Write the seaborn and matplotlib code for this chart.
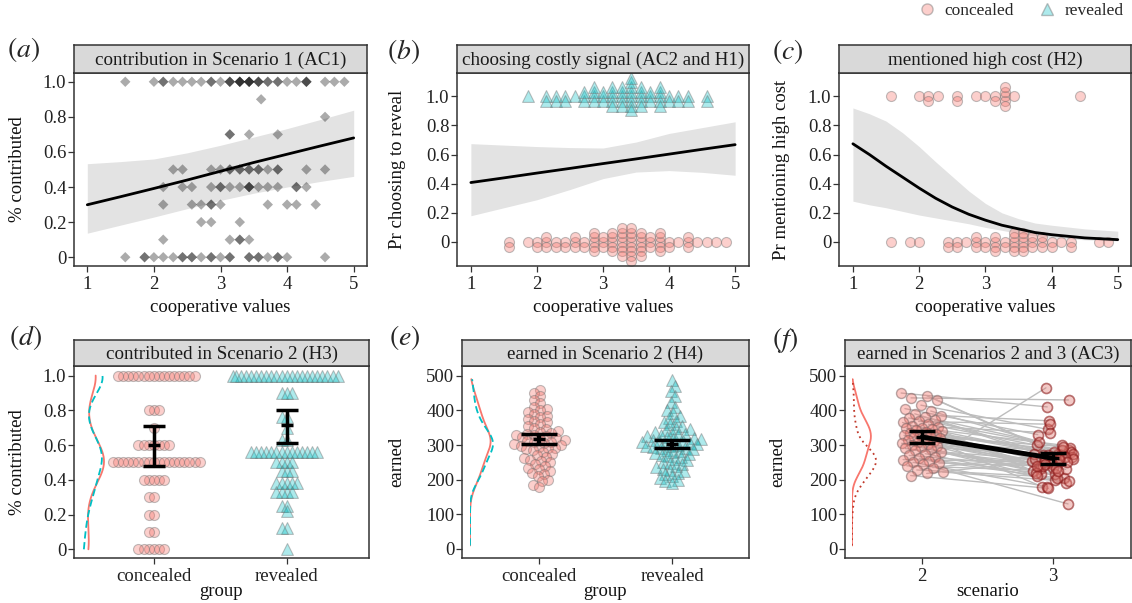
import numpy as np
import pandas as pd
import matplotlib
matplotlib.use("Agg")
import matplotlib.pyplot as plt
from matplotlib.lines import Line2D
from matplotlib.colors import to_rgba
import seaborn as sns

# ---------------- data ----------------
# (a) cooperative values of participants, listed per contribution level (Scenario 1)
a_x_100 = [1.57, 2.00, 2.14, 2.14, 2.29, 2.43, 2.57, 2.71, 2.86, 2.86, 3.00, 3.14, 3.14, 3.14,
           3.29, 3.29, 3.29, 3.29, 3.43, 3.43, 3.43, 3.43, 3.57, 3.57, 3.57, 3.71, 3.71, 3.86,
           3.86, 4.00, 4.14, 4.29, 4.29, 4.29, 4.57, 4.71, 4.86]
a_x_090 = [3.61]
a_x_080 = [4.57]
a_x_070 = [3.14, 3.14, 3.43, 3.86]
a_x_050 = [2.29, 2.43, 2.86, 3.00, 3.14, 3.14, 3.29, 3.29, 3.43, 3.43, 3.57, 3.57, 3.71, 3.86,
           3.86, 4.29, 4.57]
a_x_040 = [2.14, 2.43, 2.57, 2.86, 3.00, 3.00, 3.14, 3.29, 3.43, 3.43, 3.43, 3.57, 3.71, 3.86,
           4.14, 4.14, 4.29]
a_x_030 = [2.14, 2.57, 2.71, 2.86, 2.86, 3.00, 3.71, 4.00, 4.14, 4.43]
a_x_020 = [2.71, 2.86, 3.29]
a_x_010 = [2.14, 3.14, 3.29, 3.29, 3.43]
a_x_000 = [1.57, 1.86, 1.86, 2.00, 2.14, 2.29, 2.43, 2.43, 2.57, 2.57, 2.71, 2.86, 2.86, 3.00,
           3.14, 3.14, 3.43, 3.43, 3.57, 3.57, 3.71, 3.86, 3.86, 4.00, 4.57]
a_levels = [1.0, 0.9, 0.8, 0.7, 0.5, 0.4, 0.3, 0.2, 0.1, 0.0]
a_fit_x = [1.0, 1.5, 2.0, 2.5, 3.0, 3.5, 4.0, 4.5, 5.0]
a_fit = [0.299, 0.345, 0.392, 0.44, 0.49, 0.54, 0.587, 0.634, 0.68]
a_lo = [0.137, 0.183, 0.229, 0.277, 0.324, 0.365, 0.40, 0.432, 0.461]
a_hi = [0.533, 0.545, 0.56, 0.595, 0.638, 0.685, 0.733, 0.785, 0.838]

# (b) choosing costly signal: cooperative values of revealers (1) and concealers (0)
b_revealed = [1.86, 2.14, 2.14, 2.29, 2.29, 2.43, 2.43, 2.57, 2.71, 2.71, 2.71, 2.86, 2.86, 2.86,
              2.86, 3.00, 3.00, 3.00, 3.14, 3.14, 3.14, 3.14, 3.14, 3.29, 3.29, 3.29, 3.29, 3.29,
              3.43, 3.43, 3.43, 3.43, 3.43, 3.43, 3.43, 3.43, 3.57, 3.57, 3.57, 3.57, 3.57,
              3.71, 3.71, 3.71, 3.86, 3.86, 3.86, 3.86, 3.86, 4.00, 4.00, 4.14, 4.14, 4.29, 4.29,
              4.57, 4.57]
b_concealed = [1.57, 1.57, 1.86, 2.00, 2.00, 2.14, 2.14, 2.14, 2.29, 2.29, 2.43, 2.43, 2.57, 2.57,
               2.57, 2.71, 2.71, 2.86, 2.86, 2.86, 2.86, 2.86, 3.00, 3.00, 3.00, 3.14, 3.14, 3.14,
               3.14, 3.14, 3.29, 3.29, 3.29, 3.29, 3.29, 3.29, 3.29, 3.43, 3.43, 3.43, 3.43, 3.43,
               3.43, 3.43, 3.43, 3.57, 3.57, 3.57, 3.57, 3.57, 3.57, 3.71, 3.71, 3.71, 3.86, 3.86,
               3.86, 3.86, 3.86, 4.00, 4.00, 4.14, 4.29, 4.29, 4.29, 4.43, 4.57, 4.71, 4.86]
b_fit_x = [1.0, 1.5, 2.0, 2.5, 3.0, 3.5, 4.0, 4.5, 5.0]
b_fit = [0.408, 0.44, 0.473, 0.505, 0.538, 0.57, 0.603, 0.636, 0.668]
b_lo = [0.18, 0.235, 0.29, 0.36, 0.435, 0.48, 0.49, 0.478, 0.458]
b_hi = [0.675, 0.665, 0.655, 0.648, 0.645, 0.686, 0.745, 0.785, 0.825]

# (c) mentioned high cost (concealers only)
c_yes = [1.57, 2.00, 2.14, 2.14, 2.29, 2.57, 2.57, 2.86, 3.00, 3.14, 3.14, 3.29, 3.29, 3.29,
         3.29, 3.29, 3.43, 4.43]
c_no = [1.57, 1.86, 2.00, 2.43, 2.43, 2.57, 2.57, 2.71, 2.86, 2.86, 2.86, 3.00, 3.00, 3.14, 3.14,
        3.14, 3.14, 3.29, 3.29, 3.43, 3.43, 3.43, 3.43, 3.43, 3.57, 3.57, 3.57, 3.57, 3.57, 3.71,
        3.71, 3.71, 3.86, 3.86, 3.86, 4.00, 4.00, 4.14, 4.29, 4.29, 4.71, 4.86]
c_fit_x = [1.0, 1.25, 1.5, 1.75, 2.0, 2.25, 2.5, 2.75, 3.0, 3.25, 3.5, 3.75, 4.0, 4.5, 5.0]
c_fit = [0.674, 0.60, 0.52, 0.445, 0.37, 0.30, 0.24, 0.19, 0.15, 0.115, 0.09, 0.065, 0.05, 0.028, 0.016]
c_lo = [0.28, 0.255, 0.235, 0.21, 0.185, 0.165, 0.145, 0.125, 0.10, 0.08, 0.058, 0.042, 0.03, 0.015, 0.007]
c_hi = [0.92, 0.88, 0.83, 0.75, 0.655, 0.55, 0.45, 0.35, 0.265, 0.20, 0.16, 0.13, 0.115, 0.09, 0.074]

# (d) contributed in Scenario 2
d_concealed = [1.0] * 16 + [0.8] * 3 + [0.7] + [0.6] * 7 + [0.5] * 18 + [0.4] * 5 + [0.3] * 2 + \
              [0.2] * 2 + [0.1] * 2 + [0.0] * 6
d_revealed = [1.0] * 22 + [0.9] * 3 + [0.76] * 2 + [0.7] + [0.63] * 2 + [0.56] * 14 + [0.5] * 4 + \
             [0.45] * 3 + [0.38] * 5 + [0.33] * 4 + [0.25] * 2 + [0.22] + [0.12] * 2 + [0.0]
d_mean = [0.60, 0.715]
d_lo = [0.48, 0.613]
d_hi = [0.71, 0.80]

# (e) earned in Scenario 2
e_concealed = [460, 450, 440, 430, 420, 410, 405, 400, 395, 390, 385, 380, 375, 370, 365, 360, 355,
               350, 345, 340, 338, 335, 332, 330, 328, 325, 322, 320, 318, 315, 312, 310, 308, 305,
               302, 300, 298, 295, 292, 290, 288, 285, 280, 275, 270, 265, 262, 258, 255, 250, 245,
               240, 235, 230, 225, 220, 215, 210, 200, 195, 185, 178]
e_revealed = [488, 470, 455, 440, 425, 410, 400, 392, 385, 378, 370, 365, 360, 355, 350, 345, 342,
              338, 335, 332, 330, 328, 325, 322, 320, 318, 316, 314, 312, 310, 308, 306, 304, 302,
              300, 298, 296, 294, 292, 290, 288, 285, 282, 280, 277, 274, 270, 267, 264, 260, 256,
              252, 248, 244, 240, 236, 232, 228, 224, 220, 215, 210, 205, 200, 195, 190]
e_mean = [318, 303]
e_lo = [304, 291]
e_hi = [332, 315]

# (f) earned in Scenarios 2 and 3 (same participant in both lists, same position)
f_s2 = [450, 442, 436, 430, 415, 405, 398, 390, 385, 380, 378, 372, 368, 365, 360, 356, 352, 350,
        348, 345, 342, 340, 338, 335, 332, 330, 328, 325, 322, 320, 318, 315, 312, 310, 305, 302,
        300, 298, 295, 290, 288, 285, 280, 275, 270, 265, 262, 258, 255, 250, 248, 245, 240, 235,
        228, 222, 218, 212]
f_s3 = [410, 300, 430, 275, 345, 330, 285, 265, 370, 310, 290, 255, 360, 240, 280, 270, 335, 230,
        265, 300, 250, 215, 275, 285, 245, 180, 260, 295, 235, 270, 255, 205, 280, 240, 225, 265,
        200, 250, 275, 230, 215, 245, 260, 190, 235, 465, 220, 250, 205, 180, 240, 130, 225, 270,
        210, 195, 260, 175]
f_scen = [2, 3]
f_mean = [323, 262]
f_lo = [306, 244]
f_hi = [341, 276]

group_labels = ["concealed", "revealed"]

# ---------------- style ----------------
sns.set_theme(style="ticks")
plt.rcParams["font.family"] = ["Liberation Serif", "DejaVu Serif"]
plt.rcParams["mathtext.fontset"] = "stix"
FS = 13
FS_STRIP = 13.7
RED = "#F8766D"
CYAN = "#00BFC4"
RED_F = to_rgba(RED, 0.35)
CYAN_F = to_rgba(CYAN, 0.32)
EDGE = (0.45, 0.45, 0.45, 0.45)
BAND = "#E3E3E3"

W, H = 1132, 603
fig = plt.figure(figsize=(W / 100, H / 100), dpi=100)


def px_axes(l, t, r, b):
    return fig.add_axes([l / W, 1 - b / H, (r - l) / W, (b - t) / H])


def style(ax, xlim, ylim, xticks, xtl, yticks, ytl):
    ax.set_xlim(xlim)
    ax.set_ylim(ylim)
    ax.set_xticks(xticks)
    ax.set_xticklabels(xtl)
    ax.set_yticks(yticks)
    ax.set_yticklabels(ytl)
    ax.set_facecolor("white")
    for s in ax.spines.values():
        s.set_visible(True)
        s.set_color("#333333")
        s.set_linewidth(1.1)
    ax.tick_params(direction="out", length=4, width=0.9, color="#333333",
                   labelsize=FS + 0.5, labelcolor="#222222")
    ax.tick_params(axis="x", pad=3.5)
    ax.tick_params(axis="y", pad=1.5)
    ax.set_xlabel("")
    ax.set_ylabel("")
    ax.grid(False)


def strip(l, t, r, b, text):
    sax = px_axes(l, t, r, b)
    sax.set_facecolor("#D9D9D9")
    sax.set_xticks([])
    sax.set_yticks([])
    for s in sax.spines.values():
        s.set_color("#333333")
        s.set_linewidth(1.1)
    sax.text(0.5, 0.45, text, ha="center", va="center", fontsize=FS_STRIP, color="#1A1A1A",
             transform=sax.transAxes)


def labels(l, t, r, b, tag, tag_xy, ylab, ylab_x, xlab, xlab_y):
    fig.text(tag_xy[0] / W, 1 - tag_xy[1] / H, "$(" + tag + ")$", fontsize=20,
             ha="left", va="center")
    fig.text(ylab_x / W, 1 - (t + b) / 2 / H, ylab, rotation=90, fontsize=FS + 0.5,
             ha="center", va="center", color="#111111")
    fig.text((l + r) / 2 / W, 1 - xlab_y / H, xlab, fontsize=FS + 0.5, ha="center",
             va="center", color="#111111")


def swarm(ax, x, y, orient, marker, face, edge, swarm_size, disp_size, lw=0.8):
    n0 = len(ax.collections)
    sns.swarmplot(x=x, y=y, orient=orient, native_scale=True, ax=ax, size=swarm_size,
                  marker=marker, color=face[:3], edgecolor=edge[:3], linewidth=lw,
                  warn_thresh=1.0, zorder=2)
    for coll in ax.collections[n0:]:
        coll.__dict__.pop("draw", None)
        coll.set_sizes([disp_size ** 2])
        coll.set_facecolor(face)
        coll.set_edgecolor(edge)


def density(l, t, b, ylim, series, peak_px, clip, cut, bw):
    width = 40
    iax = px_axes(l, t, l + width, b)
    iax.patch.set_alpha(0)
    for vals, col, ls in series:
        sns.kdeplot(y=vals, ax=iax, color=col, linestyle=ls, linewidth=1.3, cut=cut,
                    clip=clip, bw_adjust=bw)
    iax.set_ylim(ylim)
    maxd = max(np.max(line.get_xdata()) for line in iax.lines)
    iax.set_xlim(0, maxd * width / peak_px)
    iax.axis("off")


prob_ticks = [0, 0.2, 0.4, 0.6, 0.8, 1.0]
prob_tl = ["0", "0.2", "0.4", "0.6", "0.8", "1.0"]
coop_ticks = [1, 2, 3, 4, 5]
coop_tl = ["1", "2", "3", "4", "5"]
earn_ticks = [0, 100, 200, 300, 400, 500]
earn_tl = [str(v) for v in earn_ticks]

# ---------------- (a) ----------------
L, T, R, B = 74, 73, 367, 266
ax = px_axes(L, T, R, B)
style(ax, (0.8, 5.2), (-0.05, 1.05), coop_ticks, coop_tl, prob_ticks, prob_tl)
a_lists = [a_x_100, a_x_090, a_x_080, a_x_070, a_x_050, a_x_040, a_x_030, a_x_020, a_x_010, a_x_000]
a_df = pd.DataFrame({
    "coop": np.concatenate([np.asarray(v, float) for v in a_lists]),
    "contrib": np.concatenate([[lev] * len(v) for lev, v in zip(a_levels, a_lists)]),
})
ax.fill_between(a_fit_x, a_lo, a_hi, color=BAND, lw=0, zorder=1)
sns.scatterplot(data=a_df, x="coop", y="contrib", marker="D", color="black", alpha=0.33,
                s=28, edgecolor="none", ax=ax, zorder=2)
sns.lineplot(x=a_fit_x, y=a_fit, color="black", linewidth=2, ax=ax, zorder=3)
style(ax, (0.8, 5.2), (-0.05, 1.05), coop_ticks, coop_tl, prob_ticks, prob_tl)
strip(L, 45, R, T, "contribution in Scenario 1 (AC1)")
labels(L, T, R, B, "a", (7, 50), "% contributed", 18, "cooperative values", 307)

# ---------------- (b) ----------------
L, T, R, B = 457, 73, 749, 266
ax = px_axes(L, T, R, B)
style(ax, (0.79, 5.21), (-0.165, 1.16), coop_ticks, coop_tl, prob_ticks, prob_tl)
ax.fill_between(b_fit_x, b_lo, b_hi, color=BAND, lw=0, zorder=1)
sns.lineplot(x=b_fit_x, y=b_fit, color="black", linewidth=2, ax=ax, zorder=3)
swarm(ax, b_revealed, [1] * len(b_revealed), "y", "^", CYAN_F, EDGE, 2.4, 8.5)
swarm(ax, b_concealed, [0] * len(b_concealed), "y", "o", RED_F, EDGE, 2.4, 7.2)
style(ax, (0.79, 5.21), (-0.165, 1.16), coop_ticks, coop_tl, prob_ticks, prob_tl)
strip(L, 45, R, T, "choosing costly signal (AC2 and H1)")
labels(L, T, R, B, "b", (387, 51), "Pr choosing to reveal", 398, "cooperative values", 307)

# ---------------- (c) ----------------
L, T, R, B = 839, 73, 1131, 266
ax = px_axes(L, T, R, B)
style(ax, (0.79, 5.2), (-0.165, 1.16), coop_ticks, coop_tl, prob_ticks, prob_tl)
ax.fill_between(c_fit_x, c_lo, c_hi, color=BAND, lw=0, zorder=1)
sns.lineplot(x=c_fit_x, y=c_fit, color="black", linewidth=2, ax=ax, zorder=3)
swarm(ax, c_yes + c_no, [1] * len(c_yes) + [0] * len(c_no), "y", "o", RED_F, EDGE, 2.4, 7.2)
style(ax, (0.79, 5.2), (-0.165, 1.16), coop_ticks, coop_tl, prob_ticks, prob_tl)
strip(L, 45, R, T, "mentioned high cost (H2)")
labels(L, T, R, B, "c", (772, 51), "Pr mentioning high cost", 782, "cooperative values", 307)

# ---------------- (d) ----------------
L, T, R, B = 74, 366, 369, 558
ax = px_axes(L, T, R, B)
style(ax, (0.4, 2.62), (-0.05, 1.055), [1, 2], group_labels, prob_ticks, prob_tl)
swarm(ax, [1] * len(d_concealed), d_concealed, "x", "o", RED_F, EDGE, 2.7, 7.2)
swarm(ax, [2] * len(d_revealed), d_revealed, "x", "^", CYAN_F, EDGE, 2.7, 8.5)
d_err = [np.subtract(d_mean, d_lo), np.subtract(d_hi, d_mean)]
ax.errorbar([1, 2], d_mean, yerr=d_err, fmt="_", color="black", ms=9, mew=2.5,
            elinewidth=2.5, capsize=8, capthick=2.8, zorder=5)
style(ax, (0.4, 2.62), (-0.05, 1.055), [1, 2], group_labels, prob_ticks, prob_tl)
strip(L, 340, R, T, "contributed in Scenario 2 (H3)")
labels(L, T, R, B, "d", (9, 337), "% contributed", 18, "group", 592)
density(82, T, B, (-0.05, 1.055),
        [(d_concealed, RED, "-"), (d_revealed, CYAN, (0, (4, 2)))], 22, None, 0, 0.8)

# ---------------- (e) ----------------
L, T, R, B = 462, 366, 749, 558
ax = px_axes(L, T, R, B)
style(ax, (0.42, 2.58), (-26, 528), [1, 2], group_labels, earn_ticks, earn_tl)
swarm(ax, [1] * len(e_concealed), e_concealed, "x", "o", RED_F, EDGE, 3.8, 7.2)
swarm(ax, [2] * len(e_revealed), e_revealed, "x", "^", CYAN_F, EDGE, 3.8, 8.5)
e_err = [np.subtract(e_mean, e_lo), np.subtract(e_hi, e_mean)]
ax.errorbar([1, 2], e_mean, yerr=e_err, fmt="_", color="black", ms=9, mew=2.5,
            elinewidth=3, capsize=13, capthick=4, zorder=5)
style(ax, (0.42, 2.58), (-26, 528), [1, 2], group_labels, earn_ticks, earn_tl)
strip(L, 340, R, T, "earned in Scenario 2 (H4)")
labels(L, T, R, B, "e", (389, 338), "earned", 397, "group", 592)
density(470, T, B, (-26, 528),
        [(e_concealed, RED, "-"), (e_revealed, CYAN, (0, (4, 2)))], 23, (10, 490), 10, 1.0)

# ---------------- (f) ----------------
L, T, R, B = 845, 366, 1131, 558
ax = px_axes(L, T, R, B)
style(ax, (1.41, 3.6), (-26, 528), f_scen, ["2", "3"], earn_ticks, earn_tl)
n_f = len(f_s2)
idx = np.arange(n_f)
jit2 = ((idx * 0.6180339887) % 1.0 - 0.5) * 0.32
jit3 = ((idx * 0.7548776662 + 0.37) % 1.0 - 0.5) * 0.32
f_df = pd.DataFrame({
    "pid": np.r_[idx, idx],
    "xpos": np.r_[f_scen[0] + jit2, f_scen[1] + jit3],
    "earned": np.r_[f_s2, f_s3],
})
sns.lineplot(data=f_df, x="xpos", y="earned", units="pid", estimator=None, sort=False,
             color="#BDBDBD", linewidth=1, ax=ax, zorder=1, legend=False)
sns.scatterplot(x=f_scen[0] + jit2, y=f_s2, s=7.2 ** 2, color=RED, ax=ax, zorder=2)
c2 = ax.collections[-1]
c2.set_alpha(None)
c2.set_facecolor(to_rgba(RED, 0.4))
c2.set_edgecolor((0.5, 0.4, 0.4, 0.55))
c2.set_linewidth(1.0)
sns.scatterplot(x=f_scen[1] + jit3, y=f_s3, s=7.2 ** 2, color=RED, ax=ax, zorder=2)
c3 = ax.collections[-1]
c3.set_alpha(None)
c3.set_facecolor(to_rgba("#E07A72", 0.4))
c3.set_edgecolor(to_rgba("#8B1A1A", 0.6))
c3.set_linewidth(1.2)
sns.lineplot(x=f_scen, y=f_mean, color="black", linewidth=3.5, ax=ax, zorder=4)
f_err = [np.subtract(f_mean, f_lo), np.subtract(f_hi, f_mean)]
ax.errorbar(f_scen, f_mean, yerr=f_err, fmt="_", color="black", ms=9, mew=2.5,
            elinewidth=2.5, capsize=9.5, capthick=3, zorder=5)
style(ax, (1.41, 3.6), (-26, 528), f_scen, ["2", "3"], earn_ticks, earn_tl)
strip(L, 340, R, T, "earned in Scenarios 2 and 3 (AC3)")
labels(L, T, R, B, "f", (772, 340), "earned", 778, "scenario", 592)
density(852, T, B, (-26, 528),
        [(f_s2, RED, "-"), (f_s3, "#C0392B", (0, (1, 2)))], 24, (10, 490), 10, 1.0)

# ---------------- legend ----------------
h1 = Line2D([], [], marker="o", linestyle="none", markersize=8,
            markerfacecolor=RED_F, markeredgecolor=EDGE)
h2 = Line2D([], [], marker="^", linestyle="none", markersize=9,
            markerfacecolor=CYAN_F, markeredgecolor=EDGE)
fig.legend([h1, h2], group_labels, loc="upper right", bbox_to_anchor=(1.0, 1.01), ncol=2,
           frameon=False, fontsize=12.5, handletextpad=0.5, columnspacing=1.4,
           handlelength=1.0, borderaxespad=0.1)

fig.savefig("out.png", dpi=100)
